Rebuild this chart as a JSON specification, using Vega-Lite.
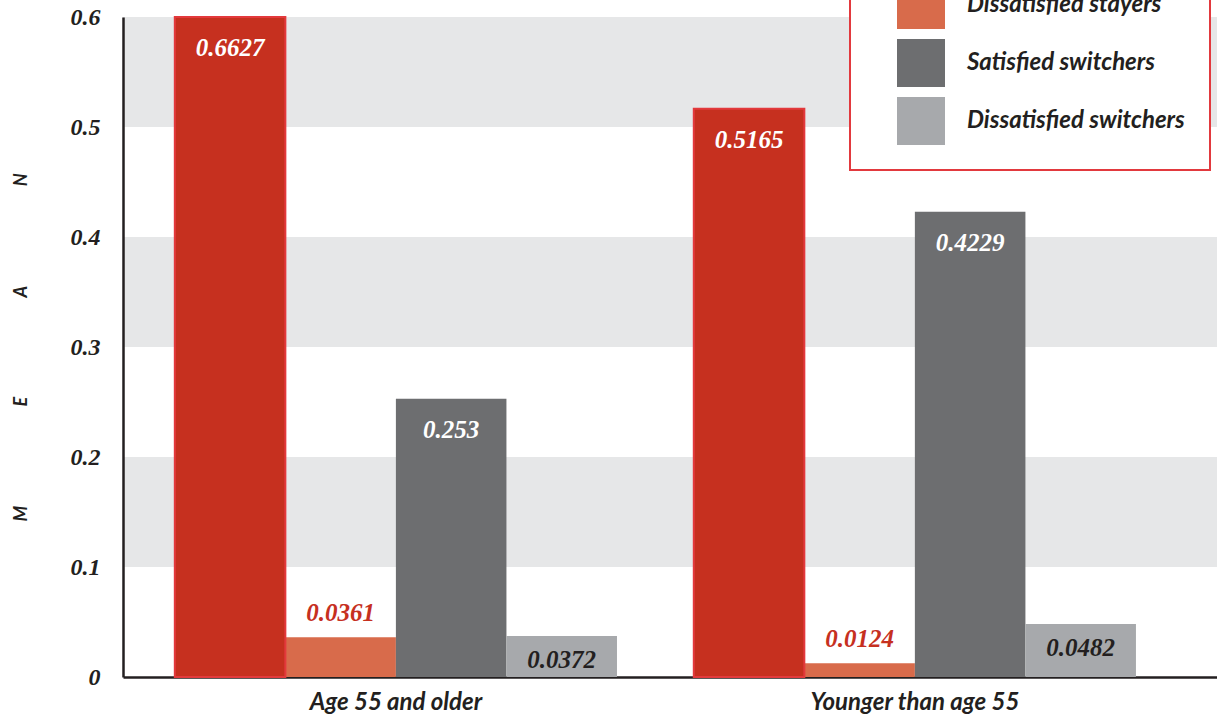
{
  "$schema": "https://vega.github.io/schema/vega-lite/v6.json",
  "autosize": {"type": "none"},
  "padding": {"left": 123, "top": 17, "right": 0, "bottom": 50},
  "width": 1094,
  "height": 660,
  "background": "white",
  "config": {
    "view": {"stroke": null},
    "legend": {"strokeWidth": 2},
    "axisX": {
      "labelFont": "Lato, Liberation Sans, sans-serif",
      "labelFontSize": 24,
      "labelFontStyle": "italic",
      "labelFontWeight": "bold",
      "labelColor": "#231f20",
      "labelPadding": 13,
      "labelAngle": 0,
      "labelLimit": 400,
      "ticks": false,
      "domainColor": "#231f20",
      "domainWidth": 2.5,
      "zindex": 1
    }
  },
  "datasets": {
    "means": [
      {"group": "Age 55 and older", "series": "Satisfied stayers", "mean": 0.6627},
      {"group": "Age 55 and older", "series": "Dissatisfied stayers", "mean": 0.0361},
      {"group": "Age 55 and older", "series": "Satisfied switchers", "mean": 0.253},
      {"group": "Age 55 and older", "series": "Dissatisfied switchers", "mean": 0.0372},
      {"group": "Younger than age 55", "series": "Satisfied stayers", "mean": 0.5165},
      {"group": "Younger than age 55", "series": "Dissatisfied stayers", "mean": 0.0124},
      {"group": "Younger than age 55", "series": "Satisfied switchers", "mean": 0.4229},
      {"group": "Younger than age 55", "series": "Dissatisfied switchers", "mean": 0.0482}
    ],
    "bands": [
      {"lo": 0.1, "hi": 0.2},
      {"lo": 0.3, "hi": 0.4},
      {"lo": 0.5, "hi": 0.6}
    ]
  },
  "layer": [
    {
      "data": {"name": "bands"},
      "mark": {"type": "rect", "color": "#e6e7e8"},
      "encoding": {
        "y": {
          "field": "lo",
          "type": "quantitative",
          "scale": {"domain": [0, 0.6], "nice": false, "clamp": true},
          "axis": {
            "title": "M\u2003\u2003\u2003\u2003\u2003\u2003\u2003\u2003E\u2003\u2003\u2003\u2003\u2003\u2003\u2003\u2003A\u2003\u2003\u2003\u2003\u2003\u2003\u2003\u2003N",
            "titleFont": "Lato, Liberation Sans, sans-serif",
            "titleFontSize": 18,
            "titleFontStyle": "italic",
            "titleFontWeight": "bold",
            "titleColor": "#231f20",
            "titlePadding": 40,
            "values": [0, 0.1, 0.2, 0.3, 0.4, 0.5, 0.6],
            "labelExpr": "datum.value === 0 ? '0' : format(datum.value, '.1f')",
            "labelFont": "Liberation Serif",
            "labelFontSize": 24,
            "labelFontStyle": "italic",
            "labelFontWeight": "bold",
            "labelColor": "#231f20",
            "labelPadding": 23,
            "labelFlush": false,
            "labelOverlap": false,
            "ticks": false,
            "grid": false,
            "domainColor": "#231f20",
            "domainWidth": 2.5,
            "zindex": 1
          }
        },
        "y2": {"field": "hi"}
      }
    },
    {
      "data": {"name": "means"},
      "encoding": {
        "x": {
          "field": "group",
          "type": "nominal",
          "title": null,
          "scale": {"paddingInner": 0.148, "paddingOuter": 0.128, "align": 0.39}
        },
        "xOffset": {
          "field": "series",
          "type": "nominal",
          "sort": ["Satisfied stayers", "Dissatisfied stayers", "Satisfied switchers", "Dissatisfied switchers"],
          "scale": {"paddingInner": 0, "paddingOuter": 0}
        },
        "y": {
          "field": "mean",
          "type": "quantitative",
          "axis": {
            "title": "M\u2003\u2003\u2003\u2003\u2003\u2003\u2003\u2003E\u2003\u2003\u2003\u2003\u2003\u2003\u2003\u2003A\u2003\u2003\u2003\u2003\u2003\u2003\u2003\u2003N",
            "titleFont": "Lato, Liberation Sans, sans-serif",
            "titleFontSize": 18,
            "titleFontStyle": "italic",
            "titleFontWeight": "bold",
            "titleColor": "#231f20",
            "titlePadding": 40,
            "values": [0, 0.1, 0.2, 0.3, 0.4, 0.5, 0.6],
            "labelExpr": "datum.value === 0 ? '0' : format(datum.value, '.1f')",
            "labelFont": "Liberation Serif",
            "labelFontSize": 24,
            "labelFontStyle": "italic",
            "labelFontWeight": "bold",
            "labelColor": "#231f20",
            "labelPadding": 23,
            "labelFlush": false,
            "labelOverlap": false,
            "ticks": false,
            "grid": false,
            "domainColor": "#231f20",
            "domainWidth": 2.5,
            "zindex": 1
          }
        }
      },
      "layer": [
        {
          "mark": {"type": "bar", "strokeWidth": 0},
          "encoding": {
            "color": {
              "field": "series",
              "type": "nominal",
              "scale": {
                "domain": ["Satisfied stayers", "Dissatisfied stayers", "Satisfied switchers", "Dissatisfied switchers"],
                "range": ["#c6301f", "#d86b4b", "#6d6e70", "#a7a9ac"]
              },
              "legend": {
                "orient": "none",
                "legendX": 727,
                "legendY": -119,
                "title": null,
                "padding": 25,
                "strokeColor": "#e2393e",
                "fillColor": "white",
                "symbolType": "square",
                "symbolSize": 2304,
                "symbolStrokeWidth": 0,
                "symbolOpacity": 1,
                "symbolOffset": 22,
                "labelExpr": "datum.label + '\u00a0\u00a0\u00a0\u00a0\u00a0\u00a0'",
                "labelFont": "Lato, Liberation Sans, sans-serif",
                "labelFontSize": 24,
                "labelFontStyle": "italic",
                "labelFontWeight": "bold",
                "labelColor": "#231f20",
                "labelOffset": 22,
                "labelLimit": 400,
                "rowPadding": 10
              }
            }
          }
        },
        {
          "transform": [{"filter": "datum.series === 'Satisfied stayers'"}],
          "mark": {"type": "bar", "fillOpacity": 0, "stroke": "#e3393c", "strokeWidth": 2}
        },
        {
          "transform": [{"filter": "datum.series === 'Satisfied stayers' || datum.series === 'Satisfied switchers'"}],
          "mark": {"type": "text", "font": "Liberation Serif", "fontSize": 25, "fontStyle": "italic", "fontWeight": "bold", "color": "white", "baseline": "middle", "dy": 31},
          "encoding": {"text": {"field": "mean", "type": "quantitative", "format": ".4~f"}}
        },
        {
          "transform": [{"filter": "datum.series === 'Dissatisfied stayers'"}],
          "mark": {"type": "text", "font": "Liberation Serif", "fontSize": 25, "fontStyle": "italic", "fontWeight": "bold", "color": "#c6301f", "baseline": "middle", "dy": -24},
          "encoding": {"text": {"field": "mean", "type": "quantitative", "format": ".4~f"}}
        },
        {
          "transform": [{"filter": "datum.series === 'Dissatisfied switchers'"}],
          "mark": {"type": "text", "font": "Liberation Serif", "fontSize": 25, "fontStyle": "italic", "fontWeight": "bold", "color": "#231f20", "baseline": "middle", "dy": 24},
          "encoding": {"text": {"field": "mean", "type": "quantitative", "format": ".4~f"}}
        }
      ]
    }
  ]
}
